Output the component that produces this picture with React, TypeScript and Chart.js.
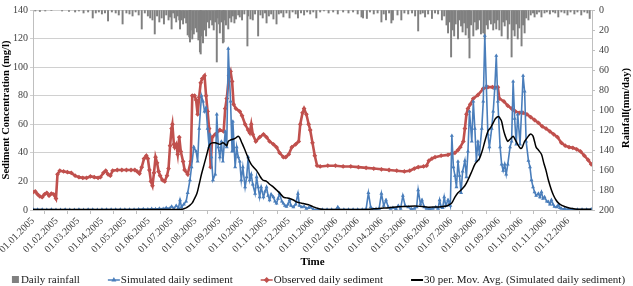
import React, { useEffect, useRef } from "react";
import { Chart, registerables } from "chart.js";

Chart.register(...registerables);

// ---------- data ----------
const tickLabels = [
  "01.01.2005", "01.02.2005", "01.03.2005", "01.04.2005", "01.05.2005", "01.06.2005",
  "01.07.2005", "01.08.2005", "01.09.2005", "01.10.2005", "01.11.2005", "01.12.2005",
  "01.01.2006", "01.02.2006", "01.03.2006", "01.04.2006", "01.05.2006", "01.06.2006",
  "01.07.2006", "01.08.2006", "01.09.2006", "01.10.2006", "01.11.2006", "01.12.2006",
];
const periodDays = 730; // 01.01.2005 .. 31.12.2006

// [day since 01.01.2005, mm/day]
const rainfall: [number, number][] = [
  [3,1],[9,1.5],[16,1],[24,0.5],[38,1],[47,1.5],[55,2],[60,1],[66,3],[72,2],[78,8],[82,3],[86,2],[90,4],[94,3],[98,11],
  [103,2],[108,3],[112,5],[117,14],[122,3],[126,4],[130,6],[134,2],[138,5],[142,19],[146,3],[150,6],[153,8],[156,10],
  [159,24],[162,6],[165,12],[168,8],[171,14],[174,5],[177,10],[179,7],[181,19],[183,3],[185,8],[187,12],[189,6],[191,10],
  [192,19],[194,10],[196,14],[198,8],[200,13],[202,25],[204,27],[205,32],[206,20],[208,29],[210,24],[212,18],[214,22],
  [216,30],[218,42],[219,44],[220,26],[222,33],[224,20],[226,26],[228,12],[230,18],[232,10],[234,15],[236,20],[238,12],
  [240,52],[241,8],[243,14],[244,23],[246,12],[248,33],[249,32],[250,10],[252,15],[255,19],[257,8],[259,12],[261,6],
  [263,13],[265,9],[268,5],[270,7],[273,10],[276,4],[280,36],[281,6],[284,9],[287,10],[290,4],[294,26],[297,5],[300,8],
  [303,3],[305,13],[308,6],[311,4],[314,9],[318,14],[321,4],[324,3],[327,7],[331,3],[335,8],[339,2],[343,4],[346,8],
  [350,3],[354,5],[358,2],[362,4],[366,2],[370,8],[375,2],[380,1],[386,3],[392,2],[398,4],[405,2],[412,3],[418,2],
  [424,4],[429,7],[431,8],[436,8.5],[440,2],[445,4],[450,3],[455,12],[458,4],[461,10],[465,3],[468,13],[470,10],[476,5],
  [481,10],[485,3],[490,4],[495,3],[499,6],[503,21],[506,4],[509,3],[512,7],[516,4],[521,8.5],[525,3],[529,4],[534,10],
  [537,6],[540,15],[542,23],[544,12],[546,47],[548,20],[550,26],[552,14],[555,29],[557,10],[559,16],[561,22],[563,13],
  [565,25],[567,18],[569,28],[570,48],[572,15],[575,26],[577,12],[579,20],[581,19],[583,10],[585,24],[588,23],[590,29],
  [592,15],[594,19],[596,10],[598,14],[601,20],[603,13],[605,19],[607,10],[609,20],[612,26],[614,12],[616,16],[618,10],
  [620,29],[622,14],[625,47],[627,20],[629,26],[631,14],[633,29],[635,18],[638,36],[640,15],[642,23],[644,8],[647,10],
  [650,5],[653,3],[655,7],[658,4],[661,2],[664,7],[668,3],[671,2],[675,4],[679,2],[682,3],[686,7],[690,2],[694,3],
  [698,5],[702,2],[707,4],[711,2],[716,5],[720,2],[724,3],[727,8.5],
];

// [day, mg/l]
const simulated: [number, number][] = [
  [0,0.5],[6,0.3],[12,0.3],[18,0.2],[24,0.3],[30,0.2],[36,0.2],[42,0.3],[48,0.2],[54,0.2],[60,0.3],[66,0.2],[72,0.3],
  [78,0.3],[84,0.2],[90,0.3],[96,0.4],[102,0.3],[108,0.3],[114,0.4],[120,0.3],[126,0.4],[132,0.3],[138,0.5],[144,0.6],
  [150,0.5],[155,0.8],[160,0.6],[165,1],[170,0.8],[174,1.5],[178,1],[181,2.5],[184,1],[187,3],[190,1.5],[192,7],[194,2],
  [197,4],[200,6],[202,12],[205,21],[207,30],[210,44],[213,41],[215,34],[217,57],[220,80],[222,76],[224,69],[226,71.5],
  [228,57],[230,44],[231,53],[233,37],[235,21],[238,25],[240,67],[242,44],[244,37],[246,48],[248,34],[251,55],[253,44],
  [255,113],[256,99],[258,76],[260,41],[261,62],[264,30],[266,44],[268,37],[270,34],[272,21],[274,30],[277,16],[279,23],
  [281,37],[283,21],[285,25],[287,18],[290,11.5],[292,23],[294,16],[296,9],[298,16],[301,9],[303,13],[305,16],[307,10],
  [309,7],[311,11],[314,9],[316,6],[318,4.6],[320,8],[322,11.5],[325,6],[327,4.6],[329,3],[331,2.3],[333,4],[335,7],
  [337,3],[340,2],[343,4],[346,11.5],[348,3],[351,2],[354,2.5],[357,1],[360,1.5],[362,2],[366,0.5],[372,0.4],[378,0.3],
  [384,0.3],[390,0.3],[396,0.4],[398,2],[400,0.5],[406,0.3],[412,0.3],[418,0.4],[424,0.3],[430,0.4],[435,0.6],[438,12],
  [441,2],[444,0.5],[448,0.8],[452,1],[455,11.5],[458,3],[461,7],[464,2],[467,1],[470,1.5],[474,0.8],[477,3],[480,1],
  [483,10],[486,3],[490,2],[494,0.8],[498,1],[501,2],[503,14],[506,4],[508,7],[511,2],[514,1],[518,0.8],[522,1],[526,2],
  [529,1],[531,7],[533,2],[535,1.5],[537,9],[539,3],[542,7],[544,5],[545,3],[547,52],[549,30],[551,24],[553,16],[555,34],
  [557,24],[559,12],[561,27],[564,34.5],[566,23],[568,41],[570,69],[573,48],[575,76],[577,57],[579,34.5],[581,48],
  [583,39],[586,57],[588,76],[590,122],[592,87],[594,53],[596,44],[599,57],[601,69],[603,85],[605,108],[607,76],[610,44],
  [612,32],[614,27.6],[616,32],[618,25],[620,32],[623,44],[625,48],[627,90],[629,64],[631,46],[633,67],[636,46],[638,69],
  [640,94],[642,83],[644,48],[647,34.5],[649,30],[651,21],[653,16],[655,12.6],[657,10],[660,11.5],[662,9],[664,12.6],
  [666,8],[668,9],[671,6],[673,5.7],[675,4],[677,7],[679,4],[681,2.3],[684,2],[686,3.4],[688,1.5],[690,1],[694,0.8],
  [699,0.5],[705,0.4],[711,0.3],[717,0.4],[723,0.3],[729,0.5],
];

// [day, mg/l]
const observed: [number, number][] = [
  [0,12.5],[3,13],[6,11],[9,9.5],[12,9],[15,11],[18,12],[21,10],[24,11.5],[27,11],[30,8],[32,25],[35,27.5],[40,27],
  [45,26.5],[50,26],[55,24],[60,23],[65,22.5],[70,22.5],[75,23.5],[80,23],[85,22.5],[88,23],[92,26],[95,27.5],[98,25],
  [101,24],[104,27.5],[110,28],[116,28],[122,28],[128,28],[133,28],[136,27],[139,25.5],[142,30],[145,36],[148,38],
  [150,36],[152,28],[154,20],[156,17],[158,26],[160,37],[162,33],[164,27],[166,24],[169,21],[172,20],[175,24],[177,29],
  [179,45],[181,57],[182,60],[184,46],[185,44],[187,46],[189,39],[191,51],[193,41],[196,34],[198,28],[202,25],[206,34],
  [208,80],[211,80],[213,77],[215,67],[217,79],[219,89],[221,92],[224,94],[226,80],[228,69],[230,57],[232,30],[234,51],
  [238,53],[244,56],[249,55],[251,71],[253,78],[256,94],[258,97],[260,90],[262,74],[265,71],[270,69],[273,66],[277,60],
  [281,56],[283,54],[285,60],[287,53],[291,48],[296,51],[301,53],[305,51],[309,48],[314,46],[318,44],[322,40],[327,37],
  [330,37],[334,39],[338,44],[343,46],[347,48],[349,60],[352,68],[354,71],[357,67],[360,60],[362,56],[365,47],[368,38],
  [371,31],[375,30.5],[385,31],[395,31],[405,30.5],[415,30.5],[425,30],[435,29.5],[445,29],[455,28.5],[465,28],
  [475,27.5],[485,27],[492,27.5],[498,29],[503,30],[510,30.5],[514,31],[517,34.5],[521,36],[525,37],[533,38],[542,38.6],
  [547,39.5],[551,40],[555,42],[558,44],[562,48],[564,57],[566,67],[568,71],[571,74],[575,78],[581,80.5],[588,85],
  [594,86],[600,86],[607,86],[609,78],[615,76],[620,73],[625,71],[630,69],[635,68],[640,68],[645,67],[650,65],[655,63],
  [660,61],[665,58.5],[670,57],[675,55],[680,53],[685,51],[690,47],[695,45],[700,44],[705,43.5],[710,42.5],[715,41],
  [720,38],[725,35],[729,32],
];

// [day, mg/l]  30-period moving average of simulated
const movingAvg: [number, number][] = [
  [0,0.3],[60,0.3],[120,0.3],[180,0.4],[195,0.6],[200,1.5],[203,2.5],[205,3.4],[208,5],[210,7],[214,11.5],[217,18],
  [220,25],[224,33],[227,39],[229,43],[231,46],[234,47],[238,47],[241,46.5],[244,46],[248,47],[251,46],[253,45],[255,48],
  [258,49],[261,49.5],[265,50.5],[268,51.7],[270,50.5],[272,48],[276,43],[279,39],[282,35],[285,32],[288,30],[292,27.6],
  [296,24],[300,21],[305,20],[309,18],[314,16],[318,14],[322,12],[327,9],[331,8.5],[335,8],[340,7],[344,5.7],[349,5],
  [353,4.6],[357,4],[361,3.4],[366,2.2],[370,1.5],[375,0.7],[380,0.4],[400,0.3],[430,0.4],[445,0.8],[455,1.2],[465,1.6],
  [477,2.3],[488,2.5],[499,2.8],[508,2.4],[516,2],[525,2.1],[533,2.3],[540,2.8],[543,3.5],[547,5],[551,9],[555,12],
  [559,14],[564,17],[568,21],[573,27],[577,32],[580,34],[583,36],[587,42],[590,48],[594,55],[598,58],[601,61],[604,64],
  [608,65.5],[610,64],[612,62],[614,57],[616,53],[618,50],[620,48],[622,49],[624,50],[627,51.7],[629,50],[631,48],
  [634,45],[637,43],[639,44],[642,48],[646,51],[649,53],[651,53],[653,51.7],[655,48],[657,44],[660,42],[664,39],[667,33],
  [670,27.6],[673,21],[677,14],[680,10],[683,7],[686,5],[690,3.4],[694,2.5],[698,1.8],[704,1],[711,0.5],[729,0.5],
];

const seriesNames = [
  "Daily rainfall",
  "Simulated daily sediment",
  "Observed daily sediment",
  "30 per. Mov. Avg. (Simulated daily sediment)",
];
const yTitle = "Sediment Concentration (mg/l)";
const y2Title = "Rainfall(mm/day)";
const xTitle = "Time";

// ---------- helpers ----------
const START = Date.UTC(2005, 0, 1);
const dayOf = (label: string) => {
  const [d, m, y] = label.split(".").map(Number);
  return Math.round((Date.UTC(y, m - 1, d) - START) / 86400000);
};
const tickDays = tickLabels.map(dayOf);
const toXY = (arr: [number, number][]) => arr.map(([x, y]) => ({ x, y }));

const COLORS = {
  rain: "#808080",
  sim: "#4a7ebb",
  obs: "#c0504d",
  ma: "#000000",
};
const FONT = '"Liberation Serif", "Times New Roman", serif';

const decorPlugin = {
  id: "decor",
  afterDraw(chart: any) {
    const { ctx, chartArea: a, width } = chart;
    const midY = (a.top + a.bottom) / 2;
    ctx.save();
    ctx.fillStyle = "#000";
    ctx.textAlign = "center";
    ctx.textBaseline = "middle";
    ctx.font = `bold 10.5px ${FONT}`;
    ctx.save();
    ctx.translate(6, midY);
    ctx.rotate(-Math.PI / 2);
    ctx.fillText(yTitle, 0, 0);
    ctx.restore();
    ctx.save();
    ctx.translate(width - 7, midY - 2);
    ctx.rotate(-Math.PI / 2);
    ctx.fillText(y2Title, 0, 0);
    ctx.restore();
    ctx.font = `bold 11px ${FONT}`;
    ctx.fillText(xTitle, (a.left + a.right) / 2, a.bottom + 52);

    // legend
    ctx.font = `11px ${FONT}`;
    ctx.textAlign = "left";
    const symW = [8, 12, 12, 12];
    const gap = 28;
    const textW = seriesNames.map((s) => ctx.measureText(s).width);
    const total = symW.reduce((p, c) => p + c + 1, 0) + textW.reduce((p, c) => p + c, 0) + gap * 3;
    let x = (width - total) / 2 + 2;
    const ly = 280;
    const colors = [COLORS.rain, COLORS.sim, COLORS.obs, COLORS.ma];
    seriesNames.forEach((name, i) => {
      const c = colors[i];
      if (i === 0) {
        ctx.fillStyle = c;
        ctx.fillRect(x, ly - 4, 7, 7);
      } else {
        ctx.strokeStyle = c;
        ctx.lineWidth = i === 3 ? 2 : 1.5;
        ctx.beginPath();
        ctx.moveTo(x, ly);
        ctx.lineTo(x + symW[i], ly);
        ctx.stroke();
        ctx.fillStyle = c;
        const cx = x + symW[i] / 2;
        if (i === 1) {
          ctx.beginPath();
          ctx.moveTo(cx, ly - 3);
          ctx.lineTo(cx + 2.5, ly + 1.5);
          ctx.lineTo(cx - 2.5, ly + 1.5);
          ctx.closePath();
          ctx.fill();
        } else if (i === 2) {
          ctx.beginPath();
          ctx.moveTo(cx, ly - 3);
          ctx.lineTo(cx + 3, ly);
          ctx.lineTo(cx, ly + 3);
          ctx.lineTo(cx - 3, ly);
          ctx.closePath();
          ctx.fill();
        }
      }
      x += symW[i] + 1;
      ctx.fillStyle = "#1a1a1a";
      ctx.fillText(name, x, ly + 0.5);
      x += textW[i] + gap;
    });
    ctx.restore();
  },
};

export default function App() {
  const ref = useRef<HTMLCanvasElement | null>(null);

  useEffect(() => {
    if (!ref.current) return;
    const tickFont = { family: FONT, size: 10 };
    const chart = new Chart(ref.current, {
      type: "line",
      data: {
        datasets: [
          {
            type: "bar",
            label: seriesNames[0],
            data: toXY(rainfall),
            yAxisID: "y2",
            backgroundColor: COLORS.rain,
            borderWidth: 0,
            barThickness: 1.3,
            order: 3,
          } as any,
          {
            label: seriesNames[2],
            data: toXY(observed),
            yAxisID: "y",
            borderColor: COLORS.obs,
            backgroundColor: COLORS.obs,
            borderWidth: 2.6,
            pointStyle: "rectRot",
            pointRadius: 2.4,
            pointBorderWidth: 0,
            tension: 0,
            order: 2,
          },
          {
            label: seriesNames[1],
            data: toXY(simulated),
            yAxisID: "y",
            borderColor: COLORS.sim,
            backgroundColor: COLORS.sim,
            borderWidth: 1.6,
            pointStyle: "triangle",
            pointRadius: 2.3,
            pointBorderWidth: 0,
            tension: 0,
            order: 1,
          },
          {
            label: seriesNames[3],
            data: toXY(movingAvg),
            yAxisID: "y",
            borderColor: COLORS.ma,
            borderWidth: 1.5,
            pointRadius: 0,
            tension: 0.3,
            order: 0,
          },
        ],
      },
      options: {
        responsive: false,
        animation: false,
        events: [],
        layout: { padding: { top: 7, bottom: 0, left: 0, right: 0 } },
        plugins: { legend: { display: false }, tooltip: { enabled: false }, title: { display: false } },
        scales: {
          x: {
            type: "linear",
            min: 0,
            max: periodDays,
            offset: false,
            afterBuildTicks: (s: any) => {
              s.ticks = tickDays.map((v) => ({ value: v }));
            },
            afterFit: (s: any) => {
              s.height = 76;
              s.paddingLeft = 0;
              s.paddingRight = 0;
            },
            ticks: {
              autoSkip: false,
              minRotation: 45,
              maxRotation: 45,
              padding: 1,
              font: tickFont,
              color: "#404040",
              callback: (v: any) => {
                const i = tickDays.indexOf(Number(v));
                return i >= 0 ? tickLabels[i] : "";
              },
            },
            grid: { display: true, drawOnChartArea: false, drawTicks: true, tickLength: 4, color: "#bfbfbf" },
            border: { display: true, color: "#bfbfbf" },
          },
          y: {
            position: "left",
            min: 0,
            max: 140,
            afterFit: (s: any) => {
              s.width = 33;
            },
            ticks: { stepSize: 20, font: tickFont, color: "#404040", padding: 2 },
            grid: { color: "#d0d0d0", tickLength: 3 },
            border: { display: true, color: "#bfbfbf" },
          },
          y2: {
            position: "right",
            min: 0,
            max: 200,
            reverse: true,
            afterFit: (s: any) => {
              s.width = 41;
            },
            ticks: { stepSize: 20, font: tickFont, color: "#404040", padding: 4 },
            grid: { drawOnChartArea: false, tickLength: 3, color: "#bfbfbf" },
            border: { display: true, color: "#bfbfbf" },
          },
        },
      },
      plugins: [decorPlugin],
    });
    return () => chart.destroy();
  }, []);

  return (
    <div style={{ position: "fixed", left: 0, top: 0, width: 633, height: 286, background: "#fff" }}>
      <canvas ref={ref} width={633} height={286} style={{ display: "block", width: 633, height: 286 }} />
    </div>
  );
}
